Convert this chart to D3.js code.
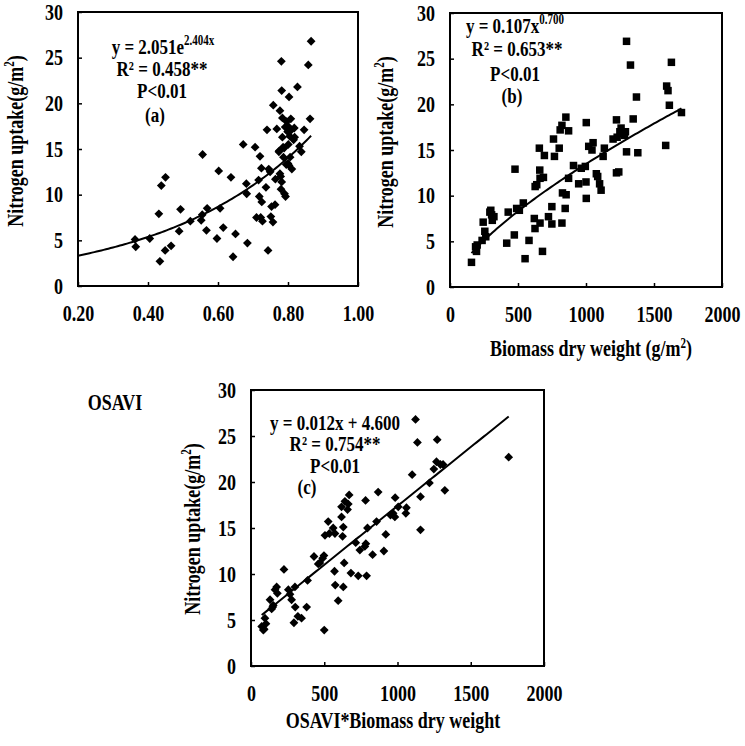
<!DOCTYPE html>
<html><head><meta charset="utf-8">
<script src="https://cdn.jsdelivr.net/npm/d3@7/dist/d3.min.js"></script>
<style>
body{margin:0;background:#fff}
text{font-family:"Liberation Serif","Times New Roman",serif;font-weight:bold;fill:#000}
</style>
</head><body>
<svg id="chart" width="745" height="746"></svg>
<script>
// ---------- DATA ----------
const yTicks = [0,5,10,15,20,25,30];
const xTicksA = [0.2,0.4,0.6,0.8,1.0];
const xTicksB = [0,500,1000,1500,2000];
const xTicksC = [0,500,1000,1500,2000];

// (a) OSAVI vs Nitrogen uptake
const pointsA = [[0.363,5.1],[0.365,4.3],[0.405,5.2],[0.431,7.9],[0.434,2.7],[0.438,11.0],[0.450,11.9],[0.449,3.9],[0.466,4.4],[0.493,8.4],[0.489,6.0],[0.521,7.1],[0.552,7.2],[0.555,7.8],[0.556,14.4],[0.569,8.5],[0.567,6.1],[0.597,5.2],[0.602,12.6],[0.606,8.5],[0.615,6.4],[0.637,11.9],[0.643,3.2],[0.650,5.7],[0.672,15.5],[0.681,11.2],[0.682,10.1],[0.684,4.7],[0.706,15.2],[0.716,11.6],[0.720,14.2],[0.718,9.8],[0.710,7.5],[0.722,7.5],[0.725,9.2],[0.727,7.1],[0.724,12.9],[0.740,17.1],[0.737,10.8],[0.743,3.9],[0.745,12.8],[0.749,12.5],[0.753,8.7],[0.751,7.6],[0.757,7.0],[0.763,8.9],[0.758,19.8],[0.764,11.7],[0.768,17.2],[0.775,14.8],[0.777,19.2],[0.781,24.6],[0.782,21.4],[0.777,12.3],[0.782,11.4],[0.780,10.6],[0.784,18.4],[0.784,16.3],[0.786,15.2],[0.787,14.1],[0.790,10.1],[0.793,9.8],[0.795,13.3],[0.796,18.0],[0.792,17.4],[0.800,17.5],[0.799,16.9],[0.801,15.5],[0.803,13.2],[0.803,20.7],[0.805,16.4],[0.808,18.3],[0.810,17.1],[0.811,12.8],[0.806,14.1],[0.818,17.3],[0.819,16.3],[0.816,16.0],[0.827,21.8],[0.833,15.3],[0.838,14.7],[0.846,17.1],[0.858,24.2],[0.866,26.8],[0.863,18.3],[0.774,14.7],[0.779,12.0],[0.789,15.1],[0.800,13.4]];

// (b) Biomass dry weight vs Nitrogen uptake
const pointsB = [[158,2.7],[188,4.4],[195,3.9],[200,4.6],[236,5.1],[244,7.1],[256,6.1],[263,5.5],[293,8.2],[300,8.4],[306,7.9],[311,7.3],[323,7.7],[417,4.8],[428,8.2],[473,5.7],[478,12.9],[490,8.6],[510,8.4],[539,9.2],[552,3.1],[581,5.1],[620,7.5],[625,6.4],[626,11.0],[638,11.2],[657,15.2],[660,12.8],[662,7.0],[662,11.9],[680,3.9],[687,12.0],[694,14.4],[724,7.7],[749,8.8],[749,6.9],[761,16.2],[768,14.3],[803,15.2],[810,17.2],[823,17.7],[823,7.0],[827,10.3],[847,8.6],[852,18.6],[854,10.1],[872,17.1],[872,11.9],[908,13.3],[946,11.3],[965,13.0],[995,13.2],[1000,11.5],[1002,9.7],[1002,18.0],[1020,15.4],[1044,15.0],[1052,15.8],[1076,12.4],[1086,12.1],[1100,11.3],[1111,10.6],[1126,14.3],[1135,15.2],[1199,16.2],[1224,18.3],[1224,12.5],[1241,12.6],[1229,16.4],[1249,17.0],[1258,17.4],[1270,16.8],[1283,16.6],[1290,17.0],[1298,26.9],[1298,14.8],[1327,24.3],[1347,18.4],[1371,20.8],[1381,14.7],[1586,15.5],[1593,22.0],[1603,21.5],[1613,19.9],[1628,24.6],[1702,19.1]];

// (c) OSAVI*Biomass dry weight vs Nitrogen uptake
const pointsC = [[73,4.3],[84,3.9],[95,5.2],[102,4.6],[90,4.0],[130,7.2],[141,6.2],[148,6.4],[152,6.6],[164,8.3],[175,8.6],[180,7.9],[225,10.5],[255,8.3],[266,7.8],[277,7.2],[300,8.6],[293,4.7],[302,6.4],[320,5.4],[345,5.2],[386,9.3],[380,6.4],[430,11.9],[459,11.1],[470,11.2],[489,11.7],[498,12.0],[505,14.2],[500,3.9],[527,15.7],[535,14.4],[561,15.0],[573,14.4],[570,10.3],[575,8.8],[595,7.1],[618,16.2],[630,15.1],[625,14.1],[618,17.3],[641,17.9],[664,17.6],[670,18.6],[659,17.0],[636,11.2],[630,8.6],[682,10.1],[715,13.4],[743,12.6],[732,9.8],[782,18.0],[784,13.3],[777,13.0],[795,15.0],[789,9.8],[830,12.1],[857,15.7],[868,18.9],[907,12.5],[920,14.3],[952,16.4],[970,16.6],[982,16.2],[984,18.3],[1005,17.3],[1057,16.6],[1061,17.2],[1100,20.8],[1123,26.8],[1136,24.3],[1157,14.8],[1157,18.4],[1218,19.9],[1248,21.4],[1266,22.2],[1271,24.6],[1293,21.9],[1311,21.9],[1323,19.1],[1759,22.7]];

// fitted trend lines (coefficients and x-range)
const trendA = {a:2.051, b:2.404, x0:0.2, x1:0.866};   // exponential
const trendB = {a:0.107, b:0.700, x0:158, x1:1702};    // power
const trendC = {a:0.0128, b:4.6, x0:73, x1:1759};      // linear (as drawn)

// ---------- DRAW ----------
const svg = d3.select("#chart");
const STRETCH = 1.25;

const panels = [
  {id:"a", box:{l:78,r:358,t:12,b:286}, xdom:[0.2,1.0], xticks:xTicksA, fmt:d3.format(".2f"),
   pts:pointsA, marker:"diamond",
   curve:x=>trendA.a*Math.exp(trendA.b*x), cx0:trendA.x0, cx1:trendA.x1,
   ylab:{x:21,y:141}, xlab:{x:115,y:409,text:"OSAVI",sup:false},
   ann:[{x:163,y:52,main:"y = 2.051e",sup:"2.404x"},{x:162,y:75,main:"R² = 0.458**"},{x:162,y:97,main:"P<0.01"},{x:155,y:121,main:"(a)"}]},
  {id:"b", box:{l:450,r:722,t:13,b:287}, xdom:[0,2000], xticks:xTicksB, fmt:d3.format("d"),
   pts:pointsB, marker:"square",
   curve:x=>trendB.a*Math.pow(x,trendB.b), cx0:trendB.x0, cx1:trendB.x1,
   ylab:{x:391,y:142}, xlab:{x:591,y:355,text:"Biomass dry weight (g/m",sup:true},
   ann:[{x:515,y:31,main:"y = 0.107x",sup:"0.700"},{x:517,y:55,main:"R² = 0.653**"},{x:515,y:80,main:"P<0.01"},{x:512,y:102,main:"(b)"}]},
  {id:"c", box:{l:251,r:544,t:390,b:666}, xdom:[0,2000], xticks:xTicksC, fmt:d3.format("d"),
   pts:pointsC, marker:"diamond",
   curve:x=>trendC.a*x+trendC.b, cx0:trendC.x0, cx1:trendC.x1,
   ylab:{x:198,y:529}, xlab:{x:393,y:727,text:"OSAVI*Biomass dry weight",sup:false},
   ann:[{x:335,y:429,main:"y = 0.012x + 4.600"},{x:335,y:450,main:"R² = 0.754**"},{x:335,y:472,main:"P<0.01"},{x:307,y:493,main:"(c)"}]}
];

panels.forEach(p=>{
  const B = p.box;
  const x = d3.scaleLinear().domain(p.xdom).range([B.l,B.r]);
  const y = d3.scaleLinear().domain([0,30]).range([B.b,B.t]);
  const g = svg.append("g");

  // axes with inward ticks
  const xa = g.append("g").attr("transform",`translate(0,${B.b})`)
    .call(d3.axisBottom(x).tickValues(p.xticks).tickFormat(p.fmt).tickSize(-4).tickPadding(21));
  const ya = g.append("g").attr("transform",`translate(${B.l},0)`)
    .call(d3.axisLeft(y).tickValues(yTicks).tickSize(-4).tickPadding(15));
  [xa,ya].forEach(a=>{
    a.select(".domain").remove();
    a.selectAll(".tick line").attr("stroke","#000").attr("stroke-width",1.5);
    a.selectAll("text").style("font-size","18px").attr("fill","#000");
  });

  // frame
  g.append("rect").attr("x",B.l).attr("y",B.t).attr("width",B.r-B.l).attr("height",B.b-B.t)
    .attr("fill","none").attr("stroke","#000").attr("stroke-width",2);

  // trend line
  const xs = d3.range(0,101).map(i=>p.cx0+(p.cx1-p.cx0)*i/100);
  g.append("path").datum(xs)
    .attr("d",d3.line().x(d=>x(d)).y(d=>y(p.curve(d))))
    .attr("fill","none").attr("stroke","#000").attr("stroke-width",2);

  // points
  const r = 4.4;
  if(p.marker==="diamond"){
    g.selectAll("path.pt").data(p.pts).enter().append("path").attr("class","pt")
      .attr("transform",d=>`translate(${x(d[0])},${y(d[1])})`)
      .attr("d",`M0,${-r}L${r},0L0,${r}L${-r},0Z`).attr("fill","#000");
  } else {
    const s = 7.5;
    g.selectAll("rect.pt").data(p.pts).enter().append("rect").attr("class","pt")
      .attr("x",d=>x(d[0])-s/2).attr("y",d=>y(d[1])-s/2)
      .attr("width",s).attr("height",s).attr("fill","#000");
  }

  // y label
  const yl = g.append("text").attr("transform",`translate(${p.ylab.x},${p.ylab.y}) rotate(-90)`)
    .attr("text-anchor","middle").style("font-size","18px");
  yl.append("tspan").text("Nitrogen uptake(g/m");
  yl.append("tspan").text("2").style("font-size","11px").attr("dy","-7");
  yl.append("tspan").text(")").attr("dy","7");

  // x label
  const xl = g.append("text").attr("x",p.xlab.x).attr("y",p.xlab.y)
    .attr("text-anchor","middle").style("font-size","18px");
  xl.append("tspan").text(p.xlab.text);
  if(p.xlab.sup){
    xl.append("tspan").text("2").style("font-size","11px").attr("dy","-7");
    xl.append("tspan").text(")").attr("dy","7");
  }

  // annotations
  p.ann.forEach(a=>{
    const t = g.append("text").attr("x",a.x).attr("y",a.y).attr("text-anchor","middle").style("font-size","17px");
    t.append("tspan").text(a.main);
    if(a.sup){
      t.append("tspan").text(a.sup).style("font-size","11px").attr("dy","-7");
    }
  });
});

// stretch glyphs vertically (tall type in the reference), about each text's own centre
svg.selectAll("text").each(function(){
  const bb = this.getBBox();
  const cx = bb.x + bb.width/2, cy = bb.y + bb.height/2;
  const prev = this.getAttribute("transform") || "";
  this.setAttribute("transform", `${prev} translate(${cx},${cy}) scale(1,${STRETCH}) translate(${-cx},${-cy})`);
});
</script>
</body></html>
